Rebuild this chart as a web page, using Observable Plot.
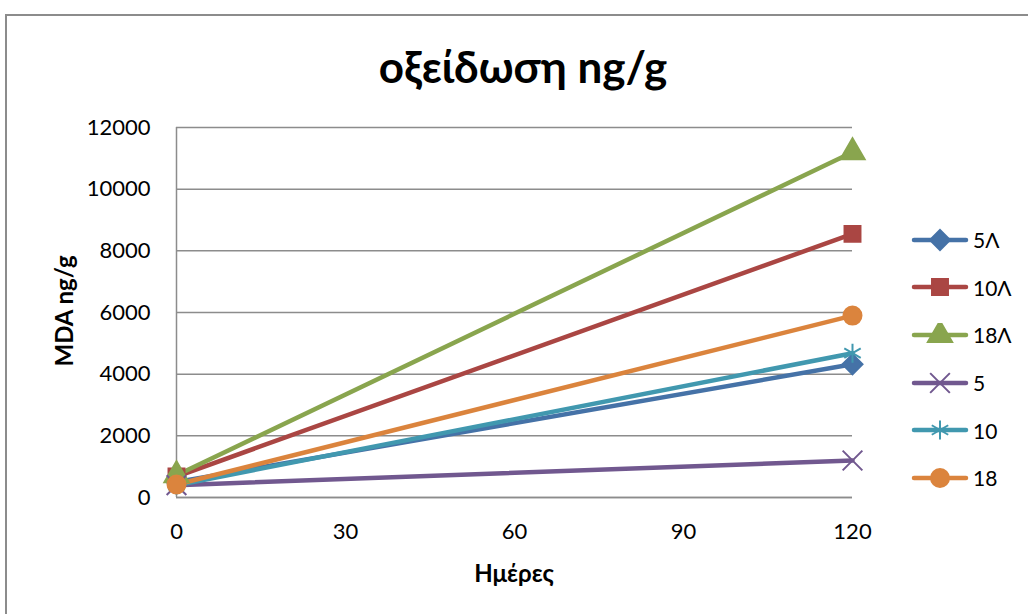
<!DOCTYPE html>
<html>
<head>
<meta charset="utf-8">
<script src="https://cdn.jsdelivr.net/npm/d3@7"></script>
<script src="https://cdn.jsdelivr.net/npm/@observablehq/plot@0.6"></script>
<style>
  body { margin: 0; background: #fff; font-family: Lato, "Noto Sans", sans-serif; }
  #wrap { position: relative; width: 1028px; height: 614px; overflow: hidden; }
  #border { position: absolute; left: 5px; top: 14px; width: 1040px; height: 620px; border: 2px solid #8c8c8c; box-sizing: border-box; }
  #title { position: absolute; left: 0; width: 1046px; top: 40px; text-align: center; font-size: 44px; font-weight: bold; color: #000; line-height: 1.2; }
  #xtitle { position: absolute; left: 414px; width: 200px; top: 558px; text-align: center; font-size: 24px; font-weight: bold; }
  #ytitle { position: absolute; left: 63px; top: 311px; font-size: 24px; font-weight: bold; transform: translate(-50%,-50%) rotate(-90deg); white-space: nowrap; }
  #legend { position: absolute; left: 910px; top: 216px; }
  .item { display: flex; align-items: center; height: 47.6px; font-size: 21px; }
  .item svg { margin-right: 3px; }
  #chart { position: absolute; left: 0; top: 0; }
</style>
</head>
<body>
<div id="wrap">
  <div id="chart"></div>
  <div id="border"></div>
  <div id="title">οξείδωση ng/g</div>
  <div id="xtitle">Ημέρες</div>
  <div id="ytitle">MDA ng/g</div>
  <div id="legend"></div>
</div>
<script>
const days = [0, 120];
const seriesNames = ["5Λ", "10Λ", "18Λ", "5", "10", "18"];
const values5L = [500, 4320];
const values10L = [680, 8550];
const values18L = [720, 11200];
const values5 = [400, 1200];
const values10 = [400, 4680];
const values18 = [420, 5900];
const xTicks = [0, 30, 60, 90, 120];
const yTicks = [0, 2000, 4000, 6000, 8000, 10000, 12000];
const colors = ["#4572A7", "#AA4643", "#89A54E", "#71588F", "#4198AF", "#DB843D"];
const symbols = ["diamond2", "square", "triangle", "times", "asterisk", "circle"];

const allValues = [values5L, values10L, values18L, values5, values10, values18];
const data = [];
seriesNames.forEach((s, i) => days.forEach((d, j) => data.push({series: s, day: d, value: allValues[i][j]})));

const chart = Plot.plot({
  width: 1028,
  height: 614,
  marginLeft: 176,
  marginRight: 176,
  marginTop: 127,
  marginBottom: 117,
  style: { fontFamily: "Lato, 'Noto Sans', sans-serif", fontSize: "22px", color: "#000", background: "transparent" },
  x: { domain: [0, 120], ticks: xTicks },
  y: { domain: [0, 12000], ticks: yTicks },
  color: { domain: seriesNames, range: colors },
  symbol: { domain: seriesNames, range: symbols },
  marks: [
    Plot.gridY(yTicks, { stroke: "#8c8c8c", strokeOpacity: 1, strokeWidth: 1.5 }),
    Plot.ruleY([0], { stroke: "#8c8c8c", strokeWidth: 1.5 }),
    Plot.ruleX([0], { stroke: "#8c8c8c", strokeWidth: 1.5 }),
    Plot.axisY(yTicks, { tickSize: 0, tickPadding: 26, tickFormat: d3.format("d"), label: null, fill: "#000", fontSize: 22 }),
    Plot.axisX(xTicks, { tickSize: 0, tickPadding: 26, label: null, fill: "#000", fontSize: 22 }),
    Plot.line(data, { x: "day", y: "value", z: "series", stroke: "series", strokeWidth: 4.5 }),
    Plot.dot(data, { x: "day", y: "value", symbol: "series", fill: "series", stroke: "series", strokeWidth: 2, r: 9 })
  ]
});
document.getElementById("chart").appendChild(chart);

// legend
const legend = d3.select("#legend");
const symMap = { diamond2: d3.symbolDiamond2, square: d3.symbolSquare, triangle: d3.symbolTriangle, times: d3.symbolTimes, asterisk: d3.symbolAsterisk, circle: d3.symbolCircle };
seriesNames.forEach((s, i) => {
  const item = legend.append("div").attr("class", "item");
  const svg = item.append("svg").attr("width", 60).attr("height", 24);
  svg.append("line").attr("x1", 4).attr("x2", 56).attr("y1", 12).attr("y2", 12)
    .attr("stroke", colors[i]).attr("stroke-width", 4.5).attr("stroke-linecap", "round");
  svg.append("path").attr("transform", "translate(30,12)")
    .attr("d", d3.symbol(symMap[symbols[i]], Math.PI * 81)())
    .attr("fill", colors[i]).attr("stroke", colors[i]).attr("stroke-width", 2);
  item.append("span").text(s);
});
</script>
</body>
</html>
